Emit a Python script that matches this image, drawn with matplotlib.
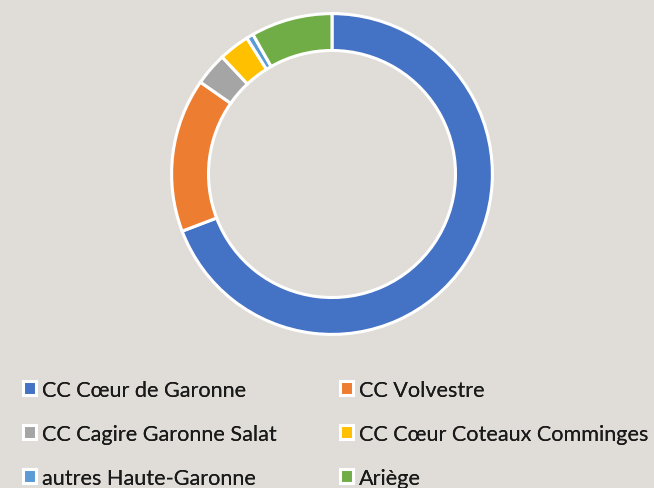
import matplotlib.pyplot as plt
from matplotlib.patches import Patch

# share per territory (percent)
labels = ['CC Cœur de Garonne', 'CC Volvestre', 'CC Cagire Garonne Salat',
          'CC Cœur Coteaux Comminges', 'autres Haute-Garonne', 'Ariège']
values = [69.2, 15.5, 3.3, 3.1, 0.7, 8.2]
colors = ['#4472C4', '#ED7D31', '#A5A5A5', '#FFC000', '#5B9BD5', '#70AD47']

bg = '#E0DDD8'
plt.rcParams['font.family'] = ['Lato', 'DejaVu Sans']

fig = plt.figure(figsize=(6.54, 4.89), dpi=100, facecolor=bg)
ax = fig.add_axes([170 / 654, (489 - 337) / 489, 324 / 654, 324 / 489])
ax.set_facecolor(bg)

wedges, _ = ax.pie(values, colors=colors, startangle=90, counterclock=False,
                   radius=1.0, wedgeprops=dict(width=0.23, edgecolor='white', linewidth=2.2))
ax.set_xlim(-1.01, 1.01)
ax.set_ylim(-1.01, 1.01)
ax.set_aspect('equal')
ax.axis('off')

# legend: two columns, filled row by row
for col, x0 in enumerate([22.5, 339.5]):
    idx = [col, col + 2, col + 4]
    handles = [Patch(facecolor=colors[i], edgecolor='white', linewidth=2.2) for i in idx]
    leg = fig.legend(handles, [labels[i] for i in idx], loc='upper left',
                     bbox_to_anchor=(x0 / 654, 1 - 381 / 489), frameon=False,
                     fontsize=15.6, handlelength=0.6, handleheight=0.6, handletextpad=0.3,
                     labelspacing=1.1, borderaxespad=0, borderpad=0)
    for t in leg.get_texts():
        t.set_color('#1a1a1a')
    fig.add_artist(leg)

fig.savefig('out.png', dpi=100, facecolor=bg)
